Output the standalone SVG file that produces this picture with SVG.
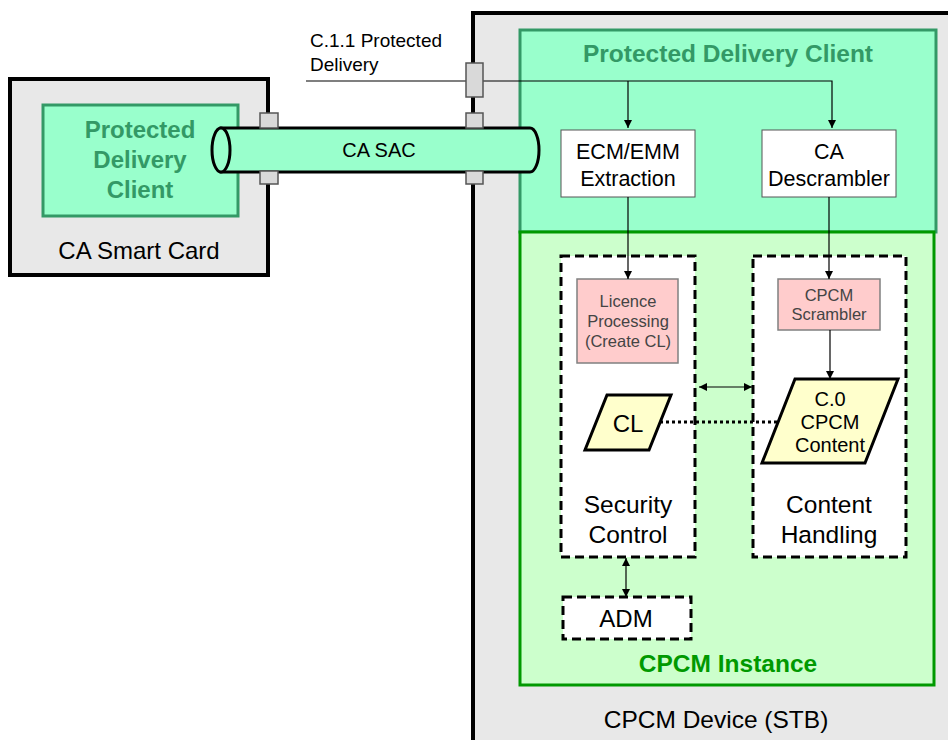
<svg xmlns="http://www.w3.org/2000/svg" width="948" height="740" viewBox="0 0 948 740">
<defs>
<marker id="ah" viewBox="0 0 10 10" refX="10" refY="5" markerWidth="8" markerHeight="8" markerUnits="userSpaceOnUse" orient="auto-start-reverse">
<path d="M0,0 L10,5 L0,10 z" fill="#000"/>
</marker>
<style>
text{font-family:"Liberation Sans",Arial,sans-serif;text-anchor:middle;fill:#000}
.gray{fill:#e8e8e8;stroke:#000;stroke-width:4}
.pdc{fill:#99ffcc;stroke:#339966;stroke-width:3}
.pdct{fill:#339966;font-weight:bold}
.inst{fill:#ccffcc;stroke:#009900;stroke-width:3}
.wbox{fill:#fff;stroke:#555;stroke-width:1}
.dash{fill:#fff;stroke:#000;stroke-width:3;stroke-dasharray:9,5}
.pink{fill:#ffcccc;stroke:#808080;stroke-width:1.5}
.pinkt{fill:#444;font-size:16.5px}
.para{fill:#ffffcc;stroke:#000;stroke-width:3}
.blk{fill:#d9d9d9;stroke:#555;stroke-width:1.5}
.ln{fill:none;stroke:#000;stroke-width:1.2}
</style>
</defs>

<g id="smart-card">
<rect class="gray" x="10" y="79" width="258" height="196"/>
<text x="139" y="259" font-size="24">CA Smart Card</text>
</g>
<g id="smart-card-pdc">
<rect class="pdc" x="43" y="105" width="195" height="111"/>
<text class="pdct" x="140" y="138" font-size="24">Protected</text>
<text class="pdct" x="140" y="168" font-size="24">Delivery</text>
<text class="pdct" x="140" y="198" font-size="24">Client</text>
</g>

<g id="cpcm-device">
<rect x="473" y="13" width="480" height="740" fill="#e8e8e8"/>
<path d="M473,745 L473,13 L952,13" fill="none" stroke="#000" stroke-width="4"/>
<text x="716" y="728" font-size="24.5">CPCM Device (STB)</text>
</g>

<g id="device-pdc">
<rect class="pdc" x="520" y="30" width="416" height="202"/>
<text class="pdct" x="728" y="62" font-size="24.5">Protected Delivery Client</text>
</g>

<g id="cpcm-instance">
<rect class="inst" x="520" y="232" width="414" height="453"/>
<text x="728" y="672" font-size="24.5" font-weight="bold" style="fill:#009900">CPCM Instance</text>
</g>

<g id="ca-sac">
<path d="M221,128 L530,128 A9,22 0 0 1 530,172 L221,172 Z" fill="#99ffcc" stroke="#000" stroke-width="3"/>
<ellipse cx="221" cy="150" rx="9" ry="22" fill="#99ffcc" stroke="#000" stroke-width="3"/>
<text x="379" y="157" font-size="20">CA SAC</text>
</g>

<g id="c11-label">
<text x="310" y="47" font-size="19" style="text-anchor:start">C.1.1 Protected</text>
<text x="310" y="71" font-size="19" style="text-anchor:start">Delivery</text>
</g>

<g id="ecm-emm">
<rect class="wbox" x="561" y="130" width="134" height="67"/>
<text x="628" y="159" font-size="21.5">ECM/EMM</text>
<text x="628" y="186" font-size="21.5">Extraction</text>
</g>
<g id="ca-descrambler">
<rect class="wbox" x="762" y="130" width="134" height="67"/>
<text x="829" y="159" font-size="21.5">CA</text>
<text x="829" y="186" font-size="21.5">Descrambler</text>
</g>

<g id="security-control">
<rect class="dash" x="561" y="256" width="134" height="301"/>
<text x="628" y="513" font-size="24.5">Security</text>
<text x="628" y="543" font-size="24.5">Control</text>
</g>
<g id="content-handling">
<rect class="dash" x="753" y="256" width="153" height="301"/>
<text x="829" y="513" font-size="24.5">Content</text>
<text x="829" y="543" font-size="24.5">Handling</text>
</g>

<g id="licence-processing">
<rect class="pink" x="577" y="279" width="101" height="84"/>
<text class="pinkt" x="628" y="307">Licence</text>
<text class="pinkt" x="628" y="327">Processing</text>
<text class="pinkt" x="628" y="347">(Create CL)</text>
</g>
<g id="cpcm-scrambler">
<rect class="pink" x="778" y="279" width="102" height="51"/>
<text class="pinkt" x="829" y="301">CPCM</text>
<text class="pinkt" x="829" y="320">Scrambler</text>
</g>

<g id="connectors">
<path class="ln" d="M306,81 L832,81 L832,128" marker-end="url(#ah)"/>
<path class="ln" d="M628,81 L628,128" marker-end="url(#ah)"/>
<path class="ln" d="M628,197 L628,279" marker-end="url(#ah)"/>
<path class="ln" d="M829,197 L829,279" marker-end="url(#ah)"/>
<path class="ln" d="M830,330 L830,379" marker-end="url(#ah)"/>
<path class="ln" d="M699,387 L752,387" marker-start="url(#ah)" marker-end="url(#ah)"/>
<path class="ln" d="M626,558 L626,597" marker-start="url(#ah)" marker-end="url(#ah)"/>
<path d="M660,422 L782,422" fill="none" stroke="#000" stroke-width="3" stroke-dasharray="3,3"/>
</g>

<g id="plugs">
<rect class="blk" x="260" y="113" width="18" height="15"/>
<rect class="blk" x="260" y="171" width="18" height="13"/>
<rect class="blk" x="466" y="113" width="17" height="15"/>
<rect class="blk" x="466" y="171" width="17" height="13"/>
<rect class="blk" x="466" y="63" width="17" height="34"/>
</g>

<g id="cl">
<polygon class="para" points="607,395 671,395 649,450 585,450"/>
<text x="628" y="432" font-size="24">CL</text>
</g>
<g id="cpcm-content">
<polygon class="para" points="795,379 898,379 865,463 762,463"/>
<text x="830" y="406" font-size="20">C.0</text>
<text x="830" y="429" font-size="20">CPCM</text>
<text x="830" y="452" font-size="20">Content</text>
</g>

<g id="adm">
<rect class="dash" x="563" y="597" width="128" height="42"/>
<text x="626" y="627" font-size="24">ADM</text>
</g>
</svg>
